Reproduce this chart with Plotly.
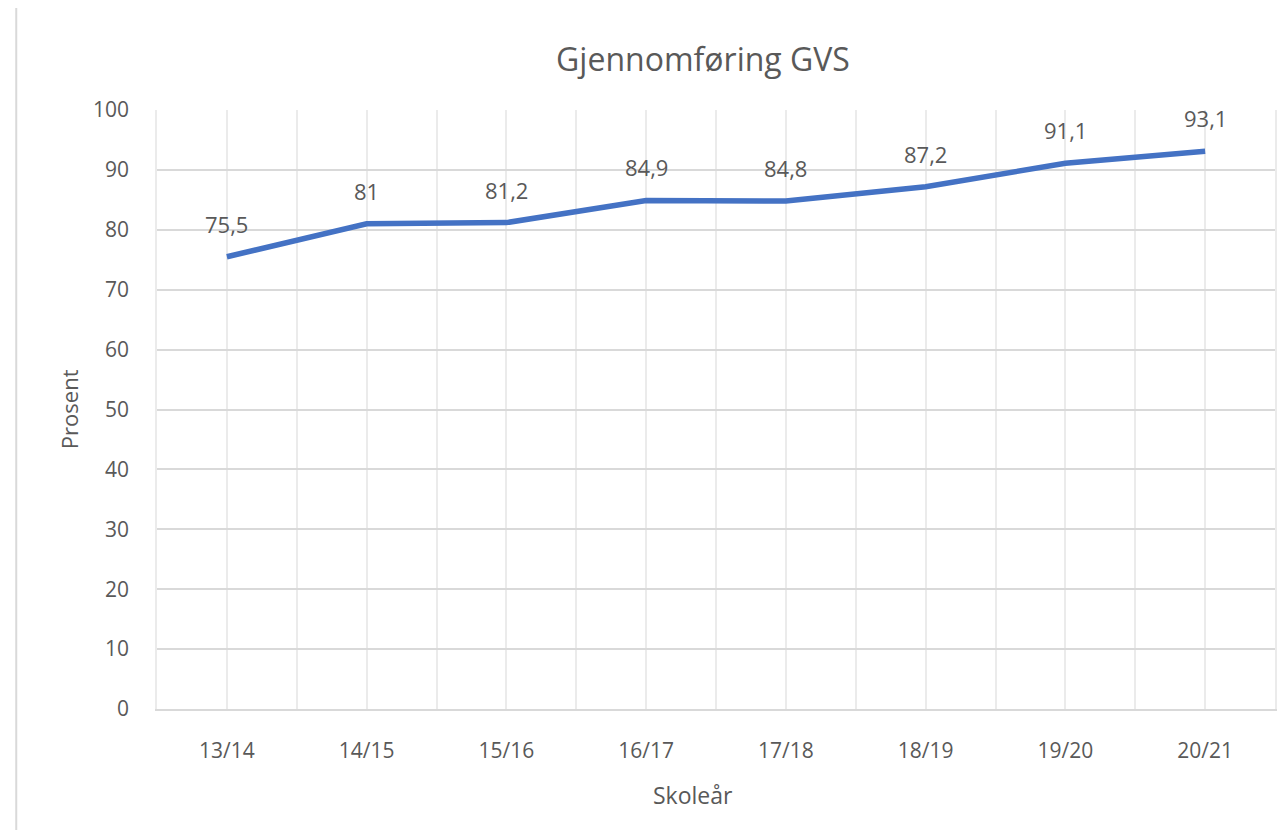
import plotly.graph_objects as go

categories = ["13/14", "14/15", "15/16", "16/17", "17/18", "18/19", "19/20", "20/21"]
values = [75.5, 81, 81.2, 84.9, 84.8, 87.2, 91.1, 93.1]
y_ticks = [0, 10, 20, 30, 40, 50, 60, 70, 80, 90, 100]

labels = [f"{v:g}".replace(".", ",") for v in values]
xs = list(range(len(categories)))

FONT = "Open Sans"
TXT = "#595959"

# page body has an 8px margin; figure is sized so plot area lands at the reference pixels
OFF = 8
W, H = 1286 - OFF, 830 - OFF
PL, PR, PT, PB = 157 - OFF, 1277 - OFF, 110 - OFF, 709 - OFF
PW, PH = PR - PL, PB - PT

fig = go.Figure()
fig.add_trace(go.Scatter(
    x=xs, y=values, mode="lines",
    line=dict(color="#4472C4", width=5.5),
    hoverinfo="skip", showlegend=False,
))

for x, y, t in zip(xs, values, labels):
    fig.add_annotation(x=x, y=y, text=t, showarrow=False, yshift=33,
                       font=dict(family=FONT, size=22, color=TXT))

fig.update_layout(
    width=W, height=H,
    margin=dict(l=PL, r=W - PR, t=PT, b=H - PB),
    paper_bgcolor="white", plot_bgcolor="white",
    font=dict(family=FONT, size=21, color=TXT),
    title=dict(text="Gjennomføring GVS", x=(703 - OFF) / W, xref="container",
               xanchor="center", y=1 - (60 - OFF) / H, yref="container", yanchor="middle",
               font=dict(family=FONT, size=32, color=TXT)),
    xaxis=dict(
        range=[-0.5, len(categories) - 0.5],
        tickmode="array", tickvals=xs, ticktext=categories,
        showgrid=True, gridcolor="#ebebeb", gridwidth=1.5,
        minor=dict(tickmode="array", tickvals=[i + 0.5 for i in range(-1, len(categories))],
                   showgrid=True, gridcolor="#ebebeb", gridwidth=1.5),
        showline=True, linecolor="#d9d9d9", linewidth=2,
        ticks="outside", ticklen=22, tickcolor="rgba(0,0,0,0)",
        zeroline=False, fixedrange=True,
        tickfont=dict(family=FONT, size=21, color=TXT),
    ),
    yaxis=dict(
        range=[0, 100], tickmode="array", tickvals=y_ticks,
        showgrid=True, gridcolor="#d9d9d9", gridwidth=1.5,
        showline=True, mirror=True, linecolor="#ebebeb", linewidth=1.5,
        ticks="outside", ticklen=22, tickcolor="rgba(0,0,0,0)",
        zeroline=False, fixedrange=True,
        tickfont=dict(family=FONT, size=21, color=TXT),
    ),
)

# axis titles
fig.add_annotation(text="Prosent", xref="paper", yref="paper",
                   x=(69 - 157) / PW, y=(709 - 409) / PH, textangle=-90, showarrow=False,
                   xanchor="center", yanchor="middle",
                   font=dict(family=FONT, size=22, color=TXT))
fig.add_annotation(text="Skoleår", xref="paper", yref="paper",
                   x=(694 - 157) / PW, y=(709 - 795) / PH, showarrow=False,
                   xanchor="center", yanchor="middle",
                   font=dict(family=FONT, size=23, color=TXT))

# chart area border
fig.add_shape(type="rect", xref="paper", yref="paper",
              x0=(16 - 157) / PW, x1=1.3, y0=-0.5, y1=1 + (110 - 6) / PH,
              line=dict(color="#d9d9d9", width=2), fillcolor="rgba(0,0,0,0)", layer="below")

fig.write_html("out.html")
